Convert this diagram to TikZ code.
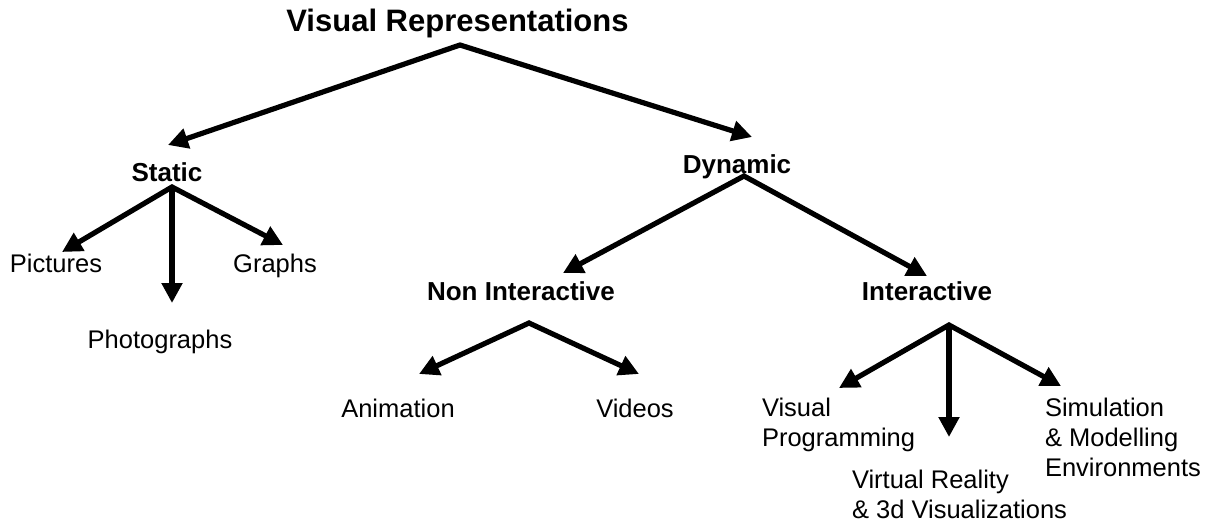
\documentclass[tikz,border=0pt]{standalone}
\usepackage{fontspec}
\setmainfont{Liberation Sans}
\usetikzlibrary{arrows.meta,calc}

\begin{document}
\begin{tikzpicture}[x=1pt, y=-1pt,
			every node/.style={inner sep=0pt, outer sep=0pt},
			title/.style={anchor=base, font=\fontsize{31}{36}\selectfont\bfseries},
			cat/.style={anchor=base, font=\fontsize{26}{31}\selectfont\bfseries},
			leaf/.style={anchor=base, font=\fontsize{25.5}{30.5}\selectfont},
			multi/.style={anchor=north west, align=left, font=\fontsize{25.5}{30}\selectfont},
			arr/.style={line width=5.2pt, -{Triangle[length=20pt,width=20pt]}},
			twoarr/.style={line width=5.2pt, {Triangle[length=20pt,width=20pt]}-{Triangle[length=20pt,width=20pt]}}]
			
			\useasboundingbox (0,0) rectangle (1218,524);
			
			\node[title] (vr) at (457.5,32) {Visual Representations};
			\node[cat] (static) at (167,182) {Static};
			\node[cat] (dyn) at (737,173) {Dynamic};
			\node[leaf] (pict) at (56,272) {Pictures};
			\node[leaf] (graphs) at (275,272) {Graphs};
			\node[leaf] (photo) at (160,348) {Photographs};
			\node[cat] (nonint) at (521,300) {Non Interactive};
			\node[cat] (inter) at (927,300) {Interactive};
			\node[leaf] (anim) at (398,417) {Animation};
			\node[leaf] (videos) at (635,417) {Videos};
			\node[multi] (visprog) at (762,398) {Visual\\Programming};
			\node[multi] (virt) at (852,470) {Virtual Reality\\\& 3d Visualizations};
			\node[multi] (sim) at (1045,398) {Simulation\\\& Modelling\\Environments};
			
			\coordinate (vr-fork) at ($(vr.base)+(2.5,13)$);
			\coordinate (static-fork) at ($(static.base)+(5,5)$);
			\coordinate (dyn-fork) at ($(dyn.base)+(7,3)$);
			\coordinate (nonint-fork) at ($(nonint.base)+(8,23)$);
			\coordinate (inter-fork) at ($(inter.base)+(22,25)$);
			
			\draw[twoarr] ($(static.base)+(1,-37)$) -- (vr-fork) -- ($(dyn.base)+(15,-36)$);
			\draw[twoarr] ($(pict.base)+(6,-20)$) -- (static-fork) -- ($(graphs.base)+(8,-27)$);
			\draw[arr] (static-fork) -- ($(photo.base)+(12,-45)$);
			\draw[twoarr] ($(nonint.base)+(42,-27)$) -- (dyn-fork) -- ($(inter.base)+(0,-24)$);
			\draw[twoarr] ($(anim.base)+(21,-43)$) -- (nonint-fork) -- ($(videos.base)+(4,-43)$);
			\draw[twoarr] ($(visprog.north west)+(77,-10)$) -- (inter-fork) -- ($(sim.north west)+(16,-12)$);
			\draw[arr] (inter-fork) -- ($(virt.north west)+(97,-33)$);
		\end{tikzpicture}
\end{document}
